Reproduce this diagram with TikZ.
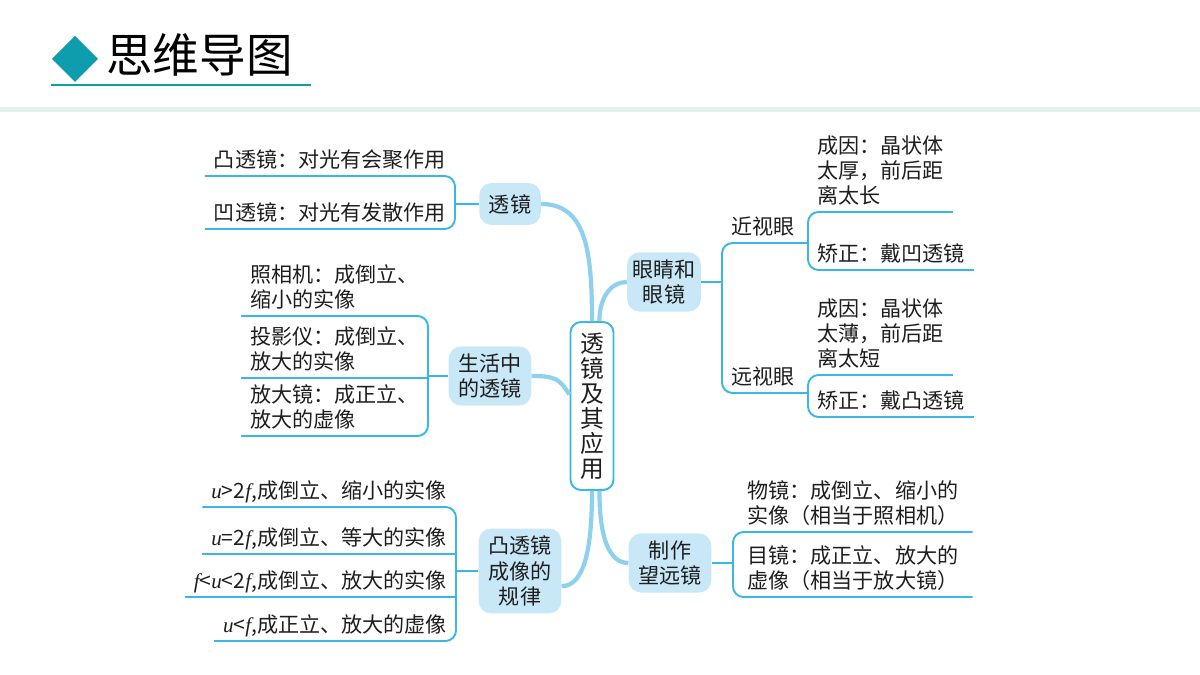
\documentclass[tikz,border=0pt]{standalone}
\usepackage{fontspec}
\setmainfont{Noto Sans CJK SC}
\newfontfamily\timesit{Liberation Serif}
\usetikzlibrary{positioning}
\definecolor{titleteal}{HTML}{0E9DAD}
\definecolor{bandgrey}{HTML}{E2F1EE}
\definecolor{brline}{HTML}{3AB7E6}
\definecolor{brfill}{HTML}{C8E8F8}
\definecolor{trunkblue}{HTML}{8FD0EE}
\definecolor{inkgrey}{HTML}{1E1E1E}
\newcommand{\mv}[1]{{\timesit\itshape #1}}

\begin{document}
\begin{tikzpicture}[x=0.02cm,y=-0.02cm,
  leaf/.style={inner xsep=5pt,inner ysep=2.5pt,text depth=2pt,align=left,
    font=\fontsize{12}{14.2}\selectfont,text=inkgrey},
  topic/.style={fill=brfill,rounded corners=7pt,inner xsep=5.5pt,inner ysep=4pt,
    minimum height=0.84cm,align=center,font=\fontsize{12}{14.6}\selectfont,text=inkgrey},
  brk/.style={brline,line width=1.1pt,rounded corners=6pt},
  trunk/.style={trunkblue,line width=2.4pt}]
  \useasboundingbox (0,0) rectangle (1200,675);

  % header
  \fill[titleteal] (75,36) -- (98,59) -- (75,82) -- (52,59) -- cycle;
  \node[font=\fontsize{26.5}{30}\selectfont,anchor=west,inner sep=0pt] (title)
    at (106,55) {思维导图};
  \draw[titleteal,line width=1.1pt] (51,85) -- (311,85);
  \fill[bandgrey] (0,107) rectangle (1200,112);

  % centre
  \node[draw=brline,line width=1.1pt,fill=white,rounded corners=6pt,inner sep=5.5pt,
    minimum width=0.86cm,minimum height=3.36cm,align=center,text=inkgrey,
    font=\fontsize{13.5}{14.2}\selectfont] (ctr) at (592,406)
    {透\\镜\\及\\其\\应\\用};

  % topics
  \node[topic] (tj) at (510,204) {透镜};
  \node[topic] (sh) at (490,376) {生活中\\的透镜};
  \node[topic] (gl) at (520,571) {凸透镜\\成像的\\规律};
  \node[topic,inner xsep=3pt] (yj) at (664,282) {眼睛和\\眼镜};
  \node[topic] (zz) at (670,563) {制作\\望远镜};

  \draw[trunk] (ctr.north) .. controls +(0,-70) and +(45,0) .. (tj.east);
  \draw[trunk] (ctr.153) .. controls +(-10,-15) and +(25,0) .. (sh.east);
  \draw[trunk] (ctr.south) .. controls +(0,60) and +(22,0) .. (gl.-20);
  \draw[trunk] (ctr.85) .. controls +(0,-25) and +(-15,0) .. (yj.west);
  \draw[trunk] (ctr.-85) .. controls +(0,45) and +(-20,0) .. (zz.west);

  % 透镜
  \node[leaf,anchor=south east] (tj1) at (455,176) {凸透镜：对光有会聚作用};
  \node[leaf,anchor=south east] (tj2) at (455,229) {凹透镜：对光有发散作用};
  \draw[brk] (tj1.south west) -- (tj1.south east) -- (tj2.south east) -- (tj2.south west);
  \draw[brk] (tj.west) -- (tj.west -| tj1.south east);

  % 生活中的透镜
  \node[leaf,anchor=south east] (sh1) at (428,316) {照相机：成倒立、\\缩小的实像};
  \node[leaf,anchor=south east] (sh2) at (428,378) {投影仪：成倒立、\\放大的实像};
  \node[leaf,anchor=south east] (sh3) at (428,436) {放大镜：成正立、\\放大的虚像};
  \draw[brk] (sh1.south west) -- (sh1.south east) -- (sh3.south east) -- (sh3.south west);
  \draw[brk] (sh2.south west) -- (sh2.south east);
  \draw[brk] (sh.west) -- (sh.west -| sh2.south east);

  % 凸透镜成像的规律
  \node[leaf,anchor=south east] (gl1) at (456,507) {\mv{u}>2\mv{f},成倒立、缩小的实像};
  \node[leaf,anchor=south east] (gl2) at (456,554) {\mv{u}=2\mv{f},成倒立、等大的实像};
  \node[leaf,anchor=south east] (gl3) at (456,597) {\mv{f}<\mv{u}<2\mv{f},成倒立、放大的实像};
  \node[leaf,anchor=south east] (gl4) at (456,641) {\mv{u}<\mv{f},成正立、放大的虚像};
  \draw[brk] (gl1.south west) -- (gl1.south east) -- (gl4.south east) -- (gl4.south west);
  \draw[brk] (gl2.south west) -- (gl2.south east);
  \draw[brk] (gl3.south west) -- (gl3.south east);
  \draw[brk] (gl.west) -- (gl.west -| gl1.south east);

  % 眼睛和眼镜
  \node[leaf,anchor=south west] (jsy) at (722,243) {近视眼};
  \node[leaf,anchor=south west] (ysy) at (722,393) {远视眼};
  \node[leaf,anchor=south west] (js1) at (808,212) {成因：晶状体\\太厚，前后距\\离太长};
  \node[leaf,anchor=south west] (js2) at (808,270) {矫正：戴凹透镜};
  \node[leaf,anchor=south west] (ys1) at (808,375) {成因：晶状体\\太薄，前后距\\离太短};
  \node[leaf,anchor=south west] (ys2) at (808,417) {矫正：戴凸透镜};
  \draw[brk] (jsy.south west -| js1.south west) -- (jsy.south west)
    -- (ysy.south west) -- (ysy.south west -| ys1.south west);
  \draw[brk] (yj.east) -- (yj.east -| jsy.south west);
  \draw[brk] (js1.south east) -- (js1.south west) -- (js2.south west) -- (js2.south east);
  \draw[brk] (ys1.south east) -- (ys1.south west) -- (ys2.south west) -- (ys2.south east);

  % 制作望远镜
  \node[leaf,inner xsep=8pt,anchor=south west] (wj1) at (733,532)
    {物镜：成倒立、缩小的\\实像（相当于照相机）};
  \node[leaf,inner xsep=8pt,anchor=south west] (wj2) at (733,597)
    {目镜：成正立、放大的\\虚像（相当于放大镜）};
  \draw[brk] (wj1.south east) -- (wj1.south west) -- (wj2.south west) -- (wj2.south east);
  \draw[brk] (zz.east) -- (zz.east -| wj1.south west);
\end{tikzpicture}
\end{document}
